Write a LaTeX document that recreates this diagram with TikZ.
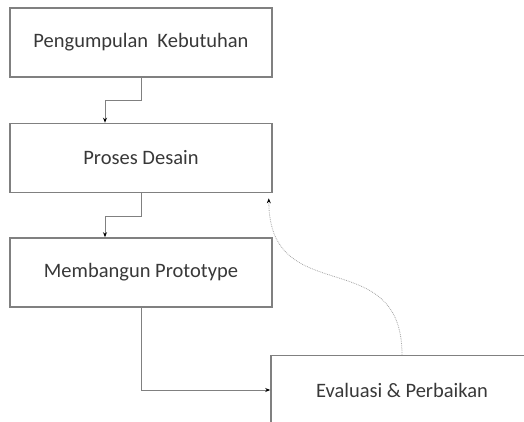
\documentclass[tikz,border=0pt]{standalone}
\usepackage{fontspec}
\setmainfont{Carlito}
\usetikzlibrary{arrows.meta,positioning}
\definecolor{boxgray}{rgb}{0.5, 0.5, 0.5}
\definecolor{txtgray}{rgb}{0.22, 0.22, 0.22}

\begin{document}
\begin{tikzpicture}[x=1pt, y=1pt,
    langkah/.style={draw=boxgray, line width=1.6pt, minimum width=262pt, minimum height=69pt,
        text=txtgray, font=\fontsize{20.5}{24}\selectfont},
    alur/.style={draw=boxgray, line width=1pt, -{Stealth[length=5pt,width=4pt,black]}},
    balik/.style={draw=black!35, densely dotted, line width=0.8pt, -{Stealth[length=5pt,width=4pt,black]}}]
    \clip (0,0) rectangle (524,421);

    % tahapan
    \node[langkah] (kumpul) at (141, 378.5) {Pengumpulan\ \ Kebutuhan};
    \node[langkah] (desain) at (141, 263) {Proses Desain};
    \node[langkah] (proto) at (141, 148.5) {Membangun Prototype};
    \node[langkah] (eval) at (402, 31) {Evaluasi \& Perbaikan};

    % alur
    \draw[alur] (kumpul.south) -- ++(0,-23) -| ([xshift=-36pt]desain.north);
    \draw[alur] (desain.south) -- ++(0,-23) -| ([xshift=-36pt]proto.north);
    \draw[alur] (proto.south) |- (eval.west);
    \draw[balik] (eval.north) to[out=90, in=-90, looseness=1.4] ([xshift=-4pt, yshift=-5pt]desain.south east);
\end{tikzpicture}
\end{document}
